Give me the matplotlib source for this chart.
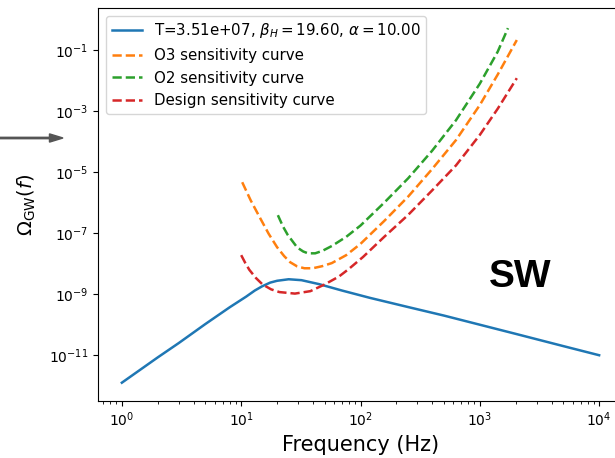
import numpy as np
import matplotlib
matplotlib.use("Agg")
import matplotlib.pyplot as plt
from matplotlib.patches import FancyArrow
from matplotlib.ticker import NullLocator, FixedLocator

# =========================
# Data (log-log, values given as log10 of Omega)
# =========================
sw_freq = [1, 2, 3, 5, 8, 11, 13, 15, 17.5, 20, 25, 32, 45, 70, 120, 250, 500, 1000, 2000, 5000, 10000]
sw_logomega = [-11.90, -11.07, -10.60, -9.98, -9.43, -9.08, -8.88, -8.74, -8.62, -8.56, -8.51, -8.54,
               -8.67, -8.88, -9.12, -9.42, -9.70, -10.00, -10.30, -10.70, -11.00]

o3_freq = [10.2, 12, 14.3, 17, 20, 22.9, 25.7, 29.5, 33.9, 39.8, 47.9, 57.5, 75.9, 100,
           158, 251, 398, 631, 1000, 1413, 2042]
o3_logomega = [-5.33, -5.92, -6.48, -7.02, -7.46, -7.75, -7.95, -8.09, -8.15, -8.15, -8.08,
               -7.98, -7.72, -7.35, -6.60, -5.80, -4.90, -3.95, -2.80, -1.80, -0.67]

o2_freq = [20.3, 22.4, 24.5, 29.5, 33.1, 36.3, 41.7, 47.9, 57.5, 75.9, 100, 158, 251, 398,
           631, 1000, 1413, 1722]
o2_logomega = [-6.41, -6.78, -7.05, -7.47, -7.60, -7.66, -7.66, -7.58, -7.42, -7.12, -6.75,
               -6.00, -5.20, -4.30, -3.30, -2.10, -1.05, -0.28]

design_freq = [10, 10.8, 11.7, 13.3, 15.1, 17.8, 20.9, 28.2, 38, 50.1, 66, 79.4, 105, 158,
               251, 398, 631, 1000, 1413, 2042]
design_logomega = [-7.72, -7.97, -8.20, -8.47, -8.68, -8.84, -8.93, -8.98, -8.90, -8.68,
                   -8.42, -8.18, -7.78, -7.12, -6.40, -5.60, -4.78, -3.78, -2.92, -1.92]

legend_labels = [
    r"T=3.51e+07, $\beta_H = 19.60$, $\alpha = 10.00$",
    "O3 sensitivity curve",
    "O2 sensitivity curve",
    "Design sensitivity curve",
]

# =========================
# Plot
# =========================
fig = plt.figure(figsize=(6.15, 4.58), dpi=100)
# right spine falls outside the crop in the reference
ax = fig.add_axes([98 / 615, 57 / 458, 525 / 615, 393 / 458])

ax.plot(sw_freq, 10.0 ** np.array(sw_logomega), color="C0", lw=1.8, label=legend_labels[0])
ax.plot(o3_freq, 10.0 ** np.array(o3_logomega), color="C1", ls="--", lw=1.8, label=legend_labels[1])
ax.plot(o2_freq, 10.0 ** np.array(o2_logomega), color="C2", ls="--", lw=1.8, label=legend_labels[2])
ax.plot(design_freq, 10.0 ** np.array(design_logomega), color="C3", ls="--", lw=1.8, label=legend_labels[3])

ax.set_xscale("log")
ax.set_yscale("log")
ax.set_xlim(10 ** -0.2, 10 ** 4.2)
ax.set_ylim(10 ** -12.5, 10 ** 0.38)

ax.yaxis.set_major_locator(FixedLocator([10.0 ** e for e in range(-11, 0, 2)]))
ax.yaxis.set_minor_locator(NullLocator())

ax.tick_params(labelsize=10)
ax.set_xlabel("Frequency (Hz)", fontsize=15, labelpad=4)
ax.set_ylabel(r"$\Omega_{\rm GW}(f)$", fontsize=14, labelpad=8)

ax.legend(loc="upper left", fontsize=10.8)

ax.text(0.804, 0.315, "SW", transform=ax.transAxes, fontsize=28, fontweight="bold",
        family="Liberation Sans", ha="center", va="center")

# gray arrow coming in from the left margin
fig.patches.append(FancyArrow(
    0, 1 - 138 / 458, 63 / 615, 0, width=0.003, head_width=0.018,
    head_length=0.022, length_includes_head=True, color="#555555",
    transform=fig.transFigure, figure=fig))

fig.savefig("out.png", dpi=100)
